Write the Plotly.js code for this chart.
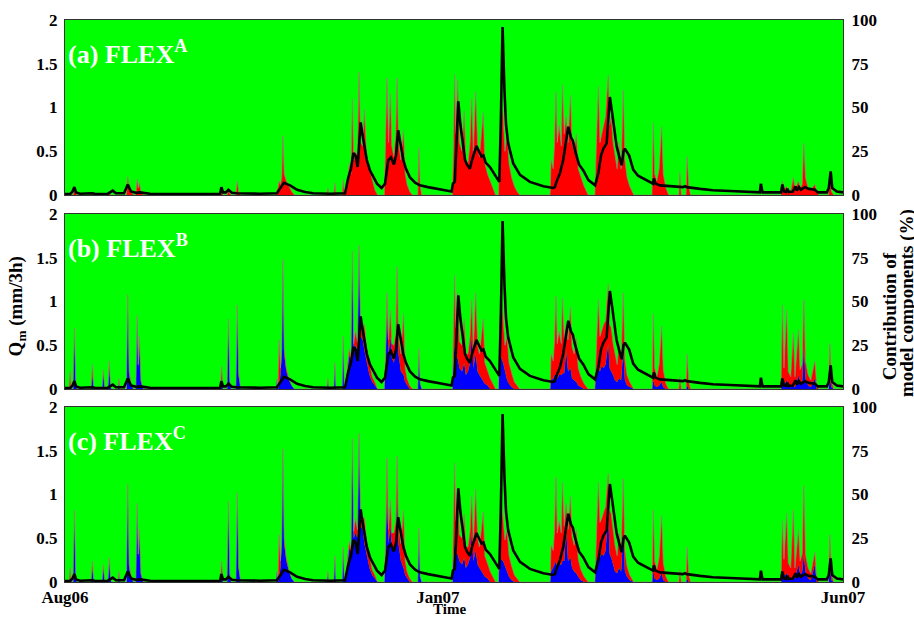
<!DOCTYPE html>
<html><head><meta charset="utf-8">
<script src="https://cdn.plot.ly/plotly-3.0.1.min.js"></script>
<style>html,body{margin:0;padding:0;background:#fff}#chart{width:914px;height:617px}</style>
</head><body><div id="chart"></div>
<script>
// x = days since start of record (Aug06 .. Jun07)
const tickDays = [0, 139, 290];
const tickLabels = ['Aug06', 'Jan07', 'Jun07'];
const qTicks = [0, 0.5, 1, 1.5, 2];
const pctTicks = [0, 25, 50, 75, 100];
const panelLabels = ['(a) FLEX<sup>A</sup>', '(b) FLEX<sup>B</sup>', '(c) FLEX<sup>C</sup>'];
const rightTitleLines = ['Contribution of', 'model components (%)'];

// modelled discharge Q_m (mm/3h)
const qDays = [
 0,1.9,2.8,3.5,4.1,5.6,10.4,11.2,16.0,17.8,
 19.0,22.0,23.4,24.6,26.5,27.9,31.7,57.8,58.3,58.9,
 60.0,60.9,62.2,64.1,72.7,79.0,80.1,81.6,83.9,86.5,
 89.5,92.4,98.8,104.4,105.6,106.6,107.5,108.3,109.1,110.2,
 111.1,112.5,113.7,115.0,116.3,118.0,119.3,120.5,121.5,122.6,
 123.4,124.2,124.9,126.1,127.1,128.6,130.5,132.3,135.3,138.5,
 141.6,144.1,144.6,145.3,145.9,146.6,147.4,148.5,149.1,149.8,
 150.9,151.9,153.4,154.3,155.3,156.0,156.8,158.4,160.3,161.9,
 162.5,163.1,163.8,164.4,165.2,167.1,169.6,173.3,178.3,182.0,
 182.6,183.2,184.5,185.7,186.7,187.6,188.6,189.3,190.1,191.6,
 193.2,195.1,197.6,198.8,199.8,200.7,201.9,202.6,203.1,203.9,
 204.4,205.6,206.5,207.5,208.2,208.7,210.3,211.8,213.6,215.5,
 219.2,219.5,220.1,221.8,225.5,230.3,231.1,231.8,236.7,241.5,
 247.9,254.1,259.0,259.4,260.0,266.9,267.4,268.0,268.8,269.3,
 269.8,271.3,272.3,272.8,273.6,274.3,275.8,277.3,279.5,280.6,
 284.0,284.7,285.4,286.0,287.7,290];
const qVals = [
 0.01,0.01,0.04,0.09,0.03,0.015,0.02,0.012,0.015,0.05,
 0.02,0.02,0.12,0.04,0.025,0.03,0.015,0.012,0.09,0.03,
 0.03,0.06,0.025,0.02,0.015,0.02,0.07,0.14,0.11,0.06,
 0.035,0.02,0.015,0.02,0.2,0.3,0.48,0.45,0.32,0.83,
 0.65,0.4,0.28,0.21,0.13,0.08,0.13,0.4,0.43,0.35,
 0.45,0.74,0.6,0.4,0.3,0.2,0.14,0.11,0.09,0.075,
 0.055,0.04,0.13,0.15,0.5,1.07,0.8,0.51,0.4,0.35,
 0.3,0.42,0.56,0.5,0.44,0.45,0.37,0.32,0.22,0.15,
 0.9,1.92,1.2,0.8,0.59,0.36,0.23,0.15,0.1,0.08,
 0.09,0.15,0.25,0.4,0.6,0.78,0.66,0.62,0.51,0.35,
 0.28,0.17,0.11,0.25,0.45,0.53,0.59,0.9,1.12,0.95,
 0.82,0.56,0.45,0.34,0.5,0.53,0.45,0.29,0.22,0.19,
 0.13,0.19,0.13,0.11,0.1,0.09,0.1,0.09,0.07,0.055,
 0.045,0.035,0.03,0.13,0.03,0.03,0.12,0.04,0.035,0.07,
 0.035,0.04,0.1,0.05,0.09,0.06,0.09,0.07,0.06,0.03,
 0.03,0.08,0.27,0.08,0.04,0.03];

// time grid of the component contributions (%)
const days = [
 0,1.5,1.9,2.3,  3.0,3.5,4.0,4.5,  9.7,10.2,10.7,  13.8,14.3,14.8,  16.0,16.5,17.0,17.5,  19.7,20.1,20.5,
 22.9,23.4,23.9,24.6,25.5,  26.4,26.9,27.3,27.7,28.3,29.2,  57.9,58.4,58.9,  60.4,60.9,61.4,62,  63.7,64.2,64.7,65.5,
 78.6,79,79.4,79.8,80.3,80.8,81.2,81.7,82.5,83.5,84.5,85.5,  97.6,98,98.4,  100.2,100.6,101,  103.3,103.7,104.1,
 104.8,105.3,106.0,106.6,107.1,107.6,108.3,109.0,109.6,110.2,111.0,111.6,112.5,113.5,114.5,115.5,116.5,
 119.0,119.5,120.0,120.6,121.3,121.8,122.6,123.3,123.8,124.3,125.2,126.2,126.8,127.5,128.5,129.5,
 131.5,131.9,132.4,133,
 144.4,144.8,145.2,145.7,146.4,147,148,148.8,149.4,150.2,151,151.6,152.2,153.1,153.8,154.5,155.9,156.5,157.5,158.5,159.5,160.5,
 161.6,162.0,162.6,163.3,164.0,164.8,165.5,166.5,167.5,168.5,169.5,
 180.8,181.2,182,182.5,183.0,183.5,184.2,185.0,185.4,186.1,186.8,187.5,188.4,189,189.8,190.6,191.3,192.3,193.5,195,
 197.5,198.0,198.8,199.4,200.0,200.8,201.5,202.5,203.0,203.6,204.3,205.0,205.8,206.5,207.3,208.1,208.7,209.5,210.5,212,
 218.8,219.3,219.8,220.6,221.5,222.4,223,224,225,
 228.8,229.2,229.7,231.5,231.9,232.5,233.2,
 266.9,267.4,268.0,269.0,269.6,270.5,271.5,272.1,273.4,274.0,274.8,275.4,276.0,277.0,278.0,279.5,280.2,281.0,
 284.6,285.1,285.7,286.5,
 290];

// FLEX-A: red component (%)
const redA = [
 0,0,0,0,  0,3,1,0,  0,1,0,  0,0,0,  0,2,0,0,  0,0,0,
 0,10.5,4,2,0,  0,9,4,7,2,0,  0,2,0,  0,3,1,0,  0,8,2,0,
 0,3,4,8,6,10,34,12,8,5,2,0,  0,4,0,  0,6.7,0,  0,8.6,1,
 2,10,18,12,55,20,25,22,70,30,28,49,20,15,8,3,0,
 0,30,67,30,58,28,22,35,67,30,20,37,12,6,2,0,
 0,27,5,0,
 0,25,69,35,66,30,25,48,20,18,30,55,25,59,28,22,47,18,12,8,4,0,
 0,30,58,45,25,35,18,10,5,2,0,
 0,20,15,30,59,30,40,28,63,35,45,30,57,30,25,35,15,10,5,0,
 0,25,62,30,35,40,45,68.6,40,45,30,22,15,30,15,60,20,10,5,0,
 0,41,12,8,15,39,12,4,0,
 0,13,0,0,22,5,0,
 0,8,3,5,2,2,10,3,8,4,6,29.5,10,4,3,6,2,0,
 0,10,2,0,
 0];

// FLEX-B: blue and red components (%)
const blueB = [
 0,0,2,0,  0,32,3,0,  0,8,0,  0,9,0,  0,13,1,0,  0,4,0,
 0,50,8,3,0,  0,40,12,27,4,0,  0,6,0,  0,38,4,0,  0,45,8,0,
 0,6,0,2,8,20,72,20,10,5,2,0,  0,4,0,  0,14,0,  0,29,2,
 3,12,20,14,76,22,25,22,80,30,28,22,15,8,4,2,0,
 0,15,45,20,30,18,15,22,45,20,10,8,4,2,0,0,
 0,20,3,0,
 0,15,25,15,18,12,10,15,8,10,15,30,12,20,10,8,5,3,2,0,0,0,
 0,16,18,15,10,5,3,1,0,0,0,
 0,5,6,8,8,6,8,8,9,9,22,10,12,6,5,4,2,1,0,0,
 0,10,12,10,13,12,14,26,12,10,8,5,4,6,5,22,5,2,1,0,
 0,5,2,1,2,4,1,0,0,
 0,0,0,0,2,0,0,
 0,3,2,5,2,1,2,1,8,3,4,24,6,2,1,6,0,0,
 0,6,1,0,
 0];
const redB = [
 0,0,8,0,  0,3,1,0,  0,6,0,  0,2,0,  0,3,0,0,  0,2,0,
 0,4,2,1,0,  0,2,2,3,1,0,  0,7,0,  0,2,1,0,  0,3,1,0,
 0,0,2,26,4,3,2,3,2,1,0,0,  0,2,0,  0,1,0,  0,1,0,
 0,2,3,4,3,4,8,5,2,5,6,15,8,6,3,2,0,
 0,5,10,8,15,8,10,10,25,10,10,35,8,4,2,0,
 0,3,0,0,
 0,15,40,20,37,15,15,25,12,10,15,21,10,35,15,12,35,12,8,6,3,0,
 0,20,38,25,15,25,12,8,4,2,0,
 0,15,10,20,45,20,25,18,43,20,15,18,35,18,15,25,10,6,3,0,
 0,15,39,20,20,25,25,34,25,25,18,15,10,20,12,33,12,6,3,0,
 0,38,10,6,12,32,10,3,0,
 0,7,0,0,18,4,0,
 0,45,10,40,8,6,30,6,26,8,10,27,10,6,4,10,2,0,
 0,20,4,0,
 0];

// FLEX-C: blue and red components (%)
const blueC = [
 0,0,2,0,  0,38,3,0,  0,8,0,  0,8,0,  0,12,1,0,  0,4,0,
 0,52,8,3,0,  0,43,14,28,4,0,  0,6,0,  0,44,4,0,  0,49,8,0,
 0,6,0,3,8,22,74,22,12,6,2,0,  0,4,0,  0,14,0,  0,19,2,
 3,12,20,15,80,25,28,25,83,32,30,22,15,8,4,2,0,
 0,18,50,22,32,20,18,25,50,22,12,8,4,2,0,0,
 0,28,3,0,
 0,14,22,15,16,12,10,14,8,10,14,28,12,18,10,8,5,3,2,0,0,0,
 0,12,13,12,9,5,3,1,0,0,0,
 0,6,8,10,12,8,10,10,12,12,30,12,14,8,6,5,3,1,0,0,
 0,12,15,14,16,15,18,38,16,14,10,6,5,8,6,28,6,3,1,0,
 0,6,2,1,2,5,1,0,0,
 0,0,0,0,2,0,0,
 0,4,3,5,3,2,3,2,10,4,6,16,6,2,1,10,0,0,
 0,8,1,0,
 0];
const redC = [
 0,0,6,0,  0,3,1,0,  0,4,0,  0,2,0,  0,2,0,0,  0,2,0,
 0,4,2,1,0,  0,2,2,2,1,0,  0,6,0,  0,2,1,0,  0,2,1,0,
 0,0,2,24,4,3,2,3,2,1,0,0,  0,2,0,  0,1,0,  0,1,0,
 0,2,3,4,2,4,8,5,2,5,6,15,8,6,3,2,0,
 0,5,21,8,15,8,10,10,22,10,10,33,8,4,2,0,
 0,3,0,0,
 0,15,46,20,37,15,15,25,12,10,15,21,10,35,15,12,35,12,8,6,3,0,
 0,20,35,25,15,25,12,8,4,2,0,
 0,15,10,20,48,20,25,18,45,20,15,18,35,18,15,25,10,6,3,0,
 0,15,42,20,20,25,25,24,25,25,18,15,10,20,12,31,12,6,3,0,
 0,35,10,6,12,33,10,3,0,
 0,7,0,0,18,4,0,
 0,31,10,34,8,6,38,6,20,8,10,39,10,6,4,7,2,0,
 0,19,4,0,
 0];

const RED = '#ff0000', BLUE = '#0000ff', GREEN = '#00ff00';
const EDGE = 'rgba(150,135,115,0.75)';
const panels = [
  {x: 'x',  yp: 'y',  yq: 'y2', comps: [{v: redA, c: RED}]},
  {x: 'x2', yp: 'y3', yq: 'y4', comps: [{v: blueB, c: BLUE}, {v: redB, c: RED}]},
  {x: 'x3', yp: 'y5', yq: 'y6', comps: [{v: blueC, c: BLUE}, {v: redC, c: RED}]}
];

const traces = [];
panels.forEach((p, i) => {
  p.comps.forEach((cmp, k) => {
    const top = k === p.comps.length - 1;
    traces.push({type: 'scatter', mode: 'lines', x: days, y: cmp.v, xaxis: p.x, yaxis: p.yp,
      stackgroup: 'g' + i, line: {width: top ? 0.9 : 0, color: top ? EDGE : cmp.c}, fillcolor: cmp.c,
      hoverinfo: 'skip', showlegend: false});
  });
  traces.push({type: 'scatter', mode: 'lines', x: qDays, y: qVals, xaxis: p.x, yaxis: p.yq,
    line: {color: '#000', width: 2.6}, hoverinfo: 'skip', showlegend: false});
});

const FAM = 'Liberation Serif, Times New Roman, serif';
const tickFont = {family: FAM, size: 17, color: '#000', weight: 'bold'};
const titleFont = {family: FAM, size: 19, color: '#000', weight: 'bold'};
const LC = '#333';
const domains = [[0.6886, 1], [0.3434, 0.6548], [0, 0.3114]];

const layout = {
  width: 914, height: 617,
  margin: {l: 65, r: 71, t: 20, b: 35},
  paper_bgcolor: '#fff', plot_bgcolor: GREEN,
  showlegend: false,
  font: tickFont,
  annotations: []
};
panels.forEach((p, i) => {
  const xa = 'xaxis' + (i === 0 ? '' : i + 1);
  const pa = 'yaxis' + (i === 0 ? '' : 2 * i + 1);
  const qa = 'yaxis' + (2 * i + 2);
  const last = i === 2;
  layout[xa] = {domain: [0, 1], range: [0, 290], anchor: p.yp, showgrid: false, zeroline: false,
    showline: true, mirror: true, linecolor: LC, linewidth: 1, ticks: '',
    tickvals: tickDays, ticktext: tickLabels, showticklabels: last, tickfont: tickFont,
    ticklabelstandoff: 0};
  layout[pa] = {domain: domains[i], range: [0, 100], side: 'right', anchor: p.x, showgrid: false,
    zeroline: false, showline: true, linecolor: LC, linewidth: 1, ticks: '', tickvals: pctTicks,
    tickfont: tickFont, ticklabelstandoff: 4};
  layout[qa] = {overlaying: p.yp, range: [0, 2], side: 'left', anchor: p.x, showgrid: false,
    zeroline: false, showline: true, linecolor: LC, linewidth: 1, ticks: '', tickvals: qTicks,
    tickfont: tickFont, ticklabelstandoff: 3};
  layout.annotations.push({text: panelLabels[i], xref: p.x + ' domain', yref: p.yp + ' domain',
    x: 0.001, y: 0.92, xanchor: 'left', yanchor: 'top', showarrow: false,
    font: {family: FAM, size: 26, color: '#fff', weight: 'bold'}});
});
layout.annotations.push(
  {text: 'Q<sub>m</sub> (mm/3h)', xref: 'paper', yref: 'paper', x: -0.062, y: 0.49, textangle: -90,
   xanchor: 'center', yanchor: 'middle', showarrow: false, font: titleFont},
  {text: rightTitleLines[0], xref: 'paper', yref: 'paper', x: (889 - 65) / 778, y: 0.473,
   textangle: -90, xanchor: 'center', yanchor: 'middle', showarrow: false, font: titleFont},
  {text: rightTitleLines[1], xref: 'paper', yref: 'paper', x: (907 - 65) / 778, y: 0.4964,
   textangle: -90, xanchor: 'center', yanchor: 'middle', showarrow: false, font: titleFont},
  {text: 'Time', xref: 'paper', yref: 'paper', x: 0.494, y: -0.048, xanchor: 'center', yanchor: 'middle',
   showarrow: false, font: {family: FAM, size: 15, color: '#000', weight: 'bold'}}
);

Plotly.newPlot('chart', traces, layout, {displayModeBar: false, staticPlot: true});
</script></body></html>
